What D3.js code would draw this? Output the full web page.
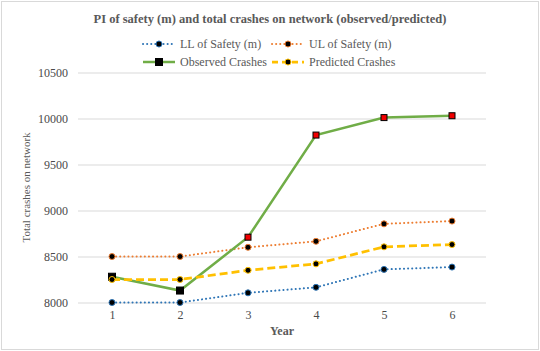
<!DOCTYPE html>
<html>
<head>
<meta charset="utf-8">
<script src="https://cdn.jsdelivr.net/npm/d3@7"></script>
<style>
  body { margin: 0; background: #fff; }
</style>
</head>
<body>
<div id="chart"></div>
<script>
var years = [1, 2, 3, 4, 5, 6];
var llSafety = [8000, 8000, 8105, 8165, 8360, 8385];
var ulSafety = [8500, 8500, 8600, 8665, 8855, 8885];
var observed = [8280, 8130, 8710, 9820, 10010, 10030];
var predicted = [8250, 8250, 8350, 8420, 8605, 8630];
var yTicks = [8000, 8500, 9000, 9500, 10000, 10500];

var FONT = "'Liberation Serif', 'DejaVu Serif', serif";
var W = 540, H = 351;
var margin = {top: 72.5, right: 54, bottom: 48.5, left: 78};
var width = W - margin.left - margin.right,
    height = H - margin.top - margin.bottom;

var svg = d3.select("#chart").append("svg")
  .attr("width", W)
  .attr("height", H)
  .attr("font-family", FONT);

// outer frame
svg.append("rect")
  .attr("x", 1.5).attr("y", 1.5)
  .attr("width", W - 3).attr("height", H - 3)
  .style("fill", "#fff")
  .style("stroke", "#d9d9d9");

var x = d3.scalePoint()
  .domain(years)
  .range([0, width])
  .padding(0.5);
var y = d3.scaleLinear()
  .domain([8000, 10500])
  .range([height, 0]);

var vis = svg.append("g")
  .attr("transform", "translate(" + margin.left + "," + margin.top + ")");

// gridlines + y labels
var yax = vis.append("g")
  .call(d3.axisLeft(y).tickValues(yTicks).tickSize(-width).tickPadding(10).tickFormat(d3.format("d")))
  .attr("font-family", FONT)
  .attr("font-size", 12);
yax.select(".domain").remove();
yax.selectAll("line").style("stroke", "#d9d9d9");
yax.selectAll("text").style("fill", "#4a4a4a");

var xax = vis.append("g")
  .attr("transform", "translate(0," + height + ")")
  .call(d3.axisBottom(x).tickSize(0).tickPadding(8))
  .attr("font-family", FONT)
  .attr("font-size", 12);
xax.select(".domain").remove();
xax.selectAll("text").style("fill", "#4a4a4a");

// axis titles
svg.append("text")
  .attr("x", margin.left + width / 2)
  .attr("y", 335)
  .attr("text-anchor", "middle")
  .style("font-size", "12px")
  .style("font-weight", "bold")
  .style("fill", "#595959")
  .text("Year");

svg.append("text")
  .attr("transform", "translate(30," + (margin.top + height / 2) + ") rotate(-90)")
  .attr("text-anchor", "middle")
  .style("font-size", "11px")
  .style("fill", "#595959")
  .text("Total crashes on network");

// title
svg.append("text")
  .attr("x", W / 2)
  .attr("y", 23)
  .attr("text-anchor", "middle")
  .style("font-size", "12.5px")
  .style("font-weight", "bold")
  .style("fill", "#595959")
  .text("PI of safety (m) and total crashes on network (observed/predicted)");

var series = [
  {name: "LL of Safety (m)", values: llSafety, color: "#2e75b6", dash: "0.1 4", cap: "round", w: 2, marker: "circle"},
  {name: "UL of Safety (m)", values: ulSafety, color: "#ed7d31", dash: "0.1 4", cap: "round", w: 2, marker: "circle"},
  {name: "Observed Crashes", values: observed, color: "#70ad47", dash: null, cap: "butt", w: 2.5, marker: "square"},
  {name: "Predicted Crashes", values: predicted, color: "#ffc000", dash: "8 4", cap: "butt", w: 2.75, marker: "circle"}
];

var line = d3.line()
  .x(function(d, i) { return x(years[i]); })
  .y(function(d) { return y(d); });

function drawMarker(g, s, cx, cy, i) {
  if (s.marker == "circle") {
    g.append("circle")
      .attr("cx", cx).attr("cy", cy).attr("r", 3)
      .style("fill", "#000")
      .style("stroke", s.color)
      .style("stroke-width", 1);
  } else {
    var red = i >= 2;
    var sz = red ? 6 : 7;
    g.append("rect")
      .attr("x", cx - sz / 2).attr("y", cy - sz / 2)
      .attr("width", sz).attr("height", sz)
      .style("fill", red ? "#f00000" : "#000")
      .style("stroke", "#000")
      .style("stroke-width", 1);
  }
}

series.forEach(function(s) {
  var g = vis.append("g");
  g.append("path")
    .datum(s.values)
    .attr("d", line)
    .style("fill", "none")
    .style("stroke", s.color)
    .style("stroke-width", s.w)
    .style("stroke-linecap", s.cap)
    .style("stroke-dasharray", s.dash);
  s.values.forEach(function(v, i) {
    drawMarker(g, s, x(years[i]), y(v), i);
  });
});

// legend
var legendPos = [[143, 44], [272, 44], [143, 62], [272, 62]];
series.forEach(function(s, k) {
  var lg = svg.append("g")
    .attr("transform", "translate(" + legendPos[k][0] + "," + legendPos[k][1] + ")");
  lg.append("line")
    .attr("x1", 0).attr("x2", 32)
    .style("stroke", s.color)
    .style("stroke-width", s.w)
    .style("stroke-linecap", s.cap)
    .style("stroke-dasharray", s.dash ? (s.dash == "8 4" ? "6 4" : s.dash) : null);
  drawMarker(lg, s, 16, 0, 0);
  lg.append("text")
    .attr("x", 37)
    .attr("y", 4)
    .style("font-size", "12px")
    .style("fill", "#595959")
    .text(s.name);
});
</script>
</body>
</html>
